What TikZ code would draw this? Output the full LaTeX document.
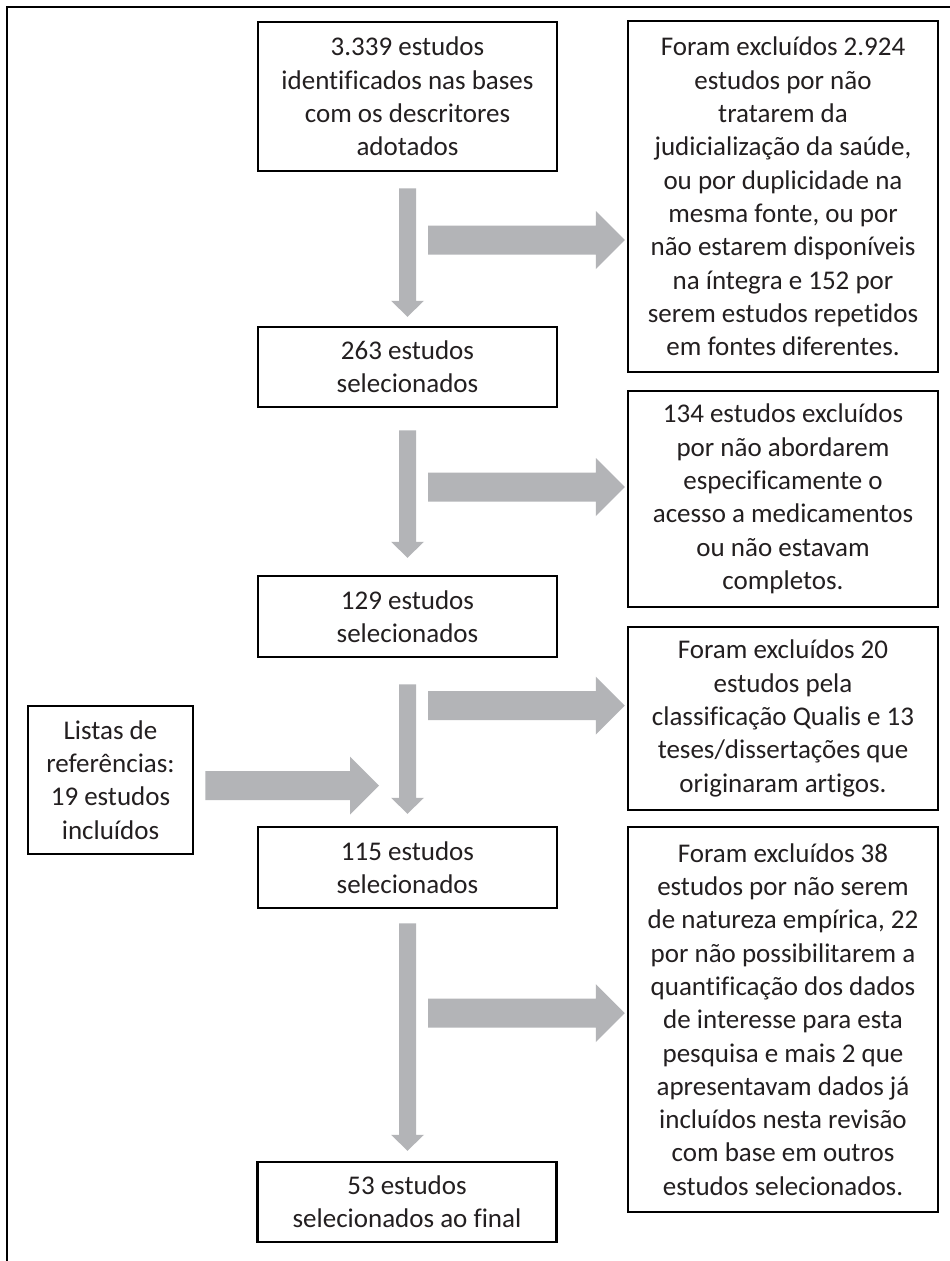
\documentclass[tikz,border=0pt]{standalone}
\usepackage{fontspec}
\setmainfont{Carlito}[Ligatures=NoCommon]
\usetikzlibrary{calc}
\definecolor{agray}{RGB}{179,180,183}
\definecolor{txt}{RGB}{35,31,32}
\newcommand\varrow[2]{\fill[agray] let \p1=(#1), \p2=(#2) in
  (\x1-8.5pt,\y1) -- (\x1+8.5pt,\y1) -- (\x1+8.5pt,\y2+16pt) -- (\x1+16.5pt,\y2+16pt)
  -- (\x1,\y2) -- (\x1-16.5pt,\y2+16pt) -- (\x1-8.5pt,\y2+16pt) -- cycle;}
\newcommand\harrow[2]{\fill[agray] let \p1=(#1), \p2=(#2) in
  (\x1,\y1+14.5pt) -- (\x2-29pt,\y1+14.5pt) -- (\x2-29pt,\y1+29pt) -- (\x2,\y1)
  -- (\x2-29pt,\y1-29pt) -- (\x2-29pt,\y1-14.5pt) -- (\x1,\y1-14.5pt) -- cycle;}
\begin{document}
\begin{tikzpicture}[x=1pt,y=1pt,
  box/.style={draw=black, line width=2.5pt, inner sep=0pt, align=center,
    text=txt, font=\fontsize{27pt}{33.3pt}\selectfont},
  mainbox/.style={box, minimum width=299pt},
  exbox/.style={box, minimum width=310pt}]
\clip (0,0) rectangle (950,-1261);
\fill[white] (0,0) rectangle (950,-1261);
\draw[line width=2.7pt] (7,-7) rectangle (1100,-1400);

% main column
\node[mainbox, minimum height=149pt] (A) at (407.5,-96.5)
  {3.339 estudos\\identificados nas bases\\com os descritores\\adotados};
\node[mainbox, minimum height=80pt] (n263) at (407.5,-367) {263 estudos\\selecionados};
\node[mainbox, minimum height=81pt] (n129) at (407.5,-616.5) {129 estudos\\selecionados};
\node[mainbox, minimum height=81pt] (n115) at (407.5,-867.5) {115 estudos\\selecionados};
\node[mainbox, minimum height=80pt] (n53) at (407,-1202) {53 estudos\\selecionados ao final};

% exclusion column
\node[exbox, minimum height=351pt] (B) at (783,-196.5)
  {Foram excluídos 2.924\\estudos por não\\tratarem da\\judicialização da saúde,\\ou por duplicidade na\\mesma fonte, ou por\\não estarem disponíveis\\na íntegra e 152 por\\serem estudos repetidos\\em fontes diferentes.};
\node[exbox, minimum height=216pt] (n134) at (783,-499)
  {134 estudos excluídos\\por não abordarem\\especificamente o\\acesso a medicamentos\\ou não estavam\\completos.};
\node[exbox, minimum height=183pt] (n20) at (783,-718.5)
  {Foram excluídos 20\\estudos pela\\classificação Qualis e 13\\teses/dissertações que\\originaram artigos.};
\node[exbox, minimum height=385pt] (n38) at (783,-1019.5)
  {Foram excluídos 38\\estudos por não serem\\de natureza empírica, 22\\por não possibilitarem a\\quantificação dos dados\\de interesse para esta\\pesquisa e mais 2 que\\apresentavam dados já\\incluídos nesta revisão\\com base em outros\\estudos selecionados.};

% side input
\node[box, minimum width=165pt, minimum height=148pt] (L) at (110.5,-780)
  {Listas de\\referências:\\19 estudos\\incluídos};

% connector end points
\coordinate (v1s) at ($(A.south)+(0,-16)$);
\coordinate (v1e) at ($(n263.north)+(0,9)$);
\coordinate (v2s) at ($(n263.south)+(0,-22)$);
\coordinate (v2e) at ($(n129.north)+(0,17)$);
\coordinate (v3s) at ($(n129.south)+(0,-26)$);
\coordinate (v3e) at ($(n115.north)+(0,12)$);
\coordinate (v4s) at ($(n115.south)+(0,-14)$);
\coordinate (v4e) at ($(n53.north)+(0,10)$);
\coordinate (h1s) at (428,-240);
\coordinate (h2s) at (428,-487);
\coordinate (h3s) at (428,-705.5);
\coordinate (h4s) at (428,-1013);
\coordinate (h1e) at ($(h1s -| B.west)+(-2,0)$);
\coordinate (h2e) at ($(h2s -| n134.west)+(-2,0)$);
\coordinate (h3e) at ($(h3s -| n20.west)+(-2,0)$);
\coordinate (h4e) at ($(h4s -| n38.west)+(-2,0)$);
\coordinate (ls) at ($(L.east)+(11,-5.5)$);
\coordinate (le) at (379,-785.5);

\varrow{v1s}{v1e}
\varrow{v2s}{v2e}
\varrow{v3s}{v3e}
\varrow{v4s}{v4e}
\harrow{h1s}{h1e}
\harrow{h2s}{h2e}
\harrow{h3s}{h3e}
\harrow{h4s}{h4e}
\harrow{ls}{le}
\end{tikzpicture}
\end{document}
